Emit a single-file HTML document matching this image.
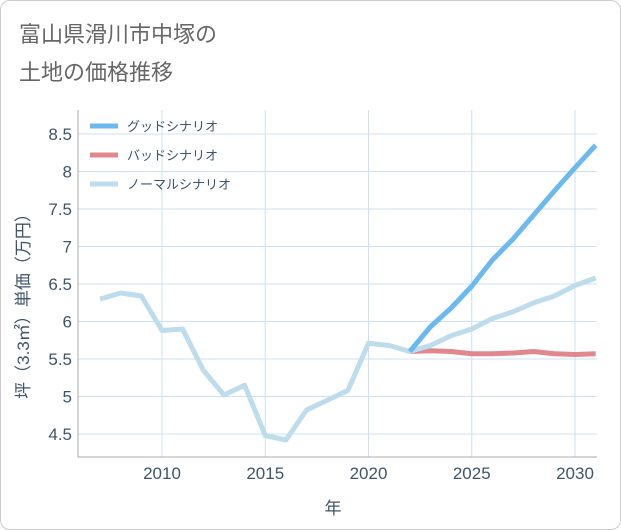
<!DOCTYPE html>
<html><head><meta charset="utf-8"><style>
body{margin:0;background:#fff;}
#card{position:absolute;left:0;top:0;width:619px;height:528px;border:1px solid #ccc;border-radius:10px;background:#fff;}
.t{position:absolute;left:18px;font:22px "Liberation Sans","Noto Sans CJK JP",sans-serif;color:#666;}
text{font-family:"Liberation Sans","Noto Sans CJK JP",sans-serif;}
</style></head><body>
<div id="card">
<div class="t" style="top:16px">富山県滑川市中塚の</div>
<div class="t" style="top:54px">土地の価格推移</div>
</div>
<svg id="c" width="621" height="530" style="position:absolute;left:0;top:0"></svg>
<script>
const years=[2007,2008,2009,2010,2011,2012,2013,2014,2015,2016,2017,2018,2019,2020,2021,2022,2023,2024,2025,2026,2027,2028,2029,2030,2031];
const normal=[6.3,6.38,6.34,5.88,5.9,5.35,5.02,5.15,4.48,4.42,4.82,4.95,5.08,5.71,5.68,5.6,5.68,5.81,5.9,6.04,6.13,6.25,6.34,6.48,6.58];
const futureYears=[2022,2023,2024,2025,2026,2027,2028,2029,2030,2031];
const good=[5.6,5.93,6.18,6.47,6.82,7.1,7.42,7.74,8.05,8.35];
const bad=[5.6,5.61,5.6,5.57,5.57,5.58,5.6,5.57,5.56,5.57];
const xTicks=[2010,2015,2020,2025,2030];
const yTicks=[4.5,5,5.5,6,6.5,7,7.5,8,8.5];
const L=78,R=597,T=110,B=457;
const x=v=>162+(v-2010)*20.65;
const y=v=>434-(v-4.5)*75;
const s=document.getElementById('c'),NS='http://www.w3.org/2000/svg';
function el(t,a,p){const e=document.createElementNS(NS,t);for(const k in a)e.setAttribute(k,a[k]);(p||s).appendChild(e);return e;}
yTicks.forEach(v=>{const l=el('line',{x1:L,x2:R,y1:y(v),y2:y(v),stroke:'#cfe0ec'});


const t=el('text',{x:L-6,y:y(v)+6,'text-anchor':'end','font-size':17,fill:'#3f5468'});t.textContent=v;

});
xTicks.forEach(v=>{const l=el('line',{x1:x(v),x2:x(v),y1:T,y2:B,stroke:'#cfe0ec'});


const t=el('text',{x:x(v),y:B+22,'text-anchor':'middle','font-size':17,fill:'#3f5468'});t.textContent=v;

});
const ax=el('path',{d:`M${L} ${T}V${B}H${R}`,stroke:'#aaa',fill:'none'});


function line(xs,ys,c,name){const p=el('polyline',{points:xs.map((v,i)=>x(v)+','+y(ys[i])).join(' '),fill:'none',stroke:c,'stroke-width':5,'stroke-linejoin':'round'});

}
line(futureYears,bad,'#e0888e','bad-scenario-line');
line(years,normal,'#bddcec','normal-scenario-line');
line(futureYears,good,'#6bb9ef','good-scenario-line');
[['グッドシナリオ','#6bb9ef',126],['バッドシナリオ','#e0888e',155],['ノーマルシナリオ','#bddcec',184]].forEach(d=>{
const g=el('g',{});


el('line',{x1:90,x2:118,y1:d[2],y2:d[2],stroke:d[1],'stroke-width':5},g);
const t=el('text',{x:127,y:d[2]+5,'font-size':13,fill:'#3f5468'},g);t.textContent=d[0];});
const xt=el('text',{x:333,y:514,'text-anchor':'middle','font-size':17,fill:'#3f5468'});xt.textContent='年';


const yt=el('text',{x:0,y:0,'text-anchor':'middle','font-size':17,fill:'#3f5468',transform:'translate(29,302) rotate(-90)'});yt.textContent='坪（3.3㎡）単価（万円）';


</script>
</body></html>
